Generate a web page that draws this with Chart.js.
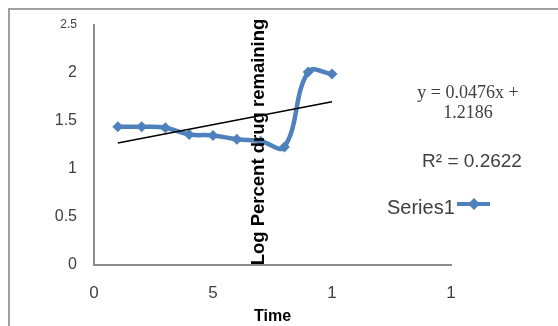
<!DOCTYPE html>
<html>
<head>
<meta charset="utf-8">
<script src="https://cdn.jsdelivr.net/npm/chart.js@4.4.1/dist/chart.umd.min.js"></script>
<style>
  html, body { margin: 0; padding: 0; background: #fff; }
  #wrap { position: relative; width: 558px; height: 326px; }
  #frame { position: absolute; left: 8px; top: 8px; right: 0; bottom: 0;
           border-top: 2px solid #a0a0a0; border-left: 2px solid #a0a0a0; }
  canvas { position: absolute; left: 0; top: 0; }
</style>
</head>
<body>
<div id="wrap">
  <div id="frame"></div>
  <canvas id="chart" width="558" height="326"></canvas>
</div>
<script>
// ══ DATA ══
const timeX   = [1, 2, 3, 4, 5, 6, 7, 8, 9, 10];
const logDrug = [1.44, 1.44, 1.43, 1.36, 1.35, 1.31, 1.29, 1.23, 2.01, 1.99];
const trendX  = [1, 10];
const trendY  = [1.27, 1.70];
const xTickLabels = { 0: '0', 5: '5', 10: '1', 15: '1' };
const yTickLabels = { 0: '0', 0.5: '0.5', 1: '1', 1.5: '1.5', 2: '2', 2.5: '2.5' };
const eqLines   = ['y = 0.0476x +', '1.2186'];
const r2Text    = 'R² = 0.2622';
const seriesName = 'Series1';
const yTitle    = 'Log Percent drug remaining';

const BLUE = '#4f81bd';
const AXIS = '#8c8c8c';
const TXT  = '#404040';
const SANS = '"Liberation Sans", Arial, sans-serif';

const overlay = {
  id: 'overlay',
  afterDraw(chart) {
    const c = chart.ctx;
    c.save();
    // rotated y title sitting inside the plot, as in the original
    c.fillStyle = '#000';
    c.font = 'bold 16px ' + SANS;
    let w = c.measureText(yTitle).width;
    const fs = 16 * 247 / w;
    c.font = 'bold ' + fs.toFixed(1) + 'px ' + SANS;
    c.translate(259, 142);
    c.rotate(-Math.PI / 2);
    c.textAlign = 'center';
    c.textBaseline = 'middle';
    c.fillText(yTitle, 0, 0);
    c.restore();

    c.save();
    c.fillStyle = TXT;
    c.textAlign = 'center';
    c.textBaseline = 'middle';
    c.font = '18px "Liberation Serif", "Times New Roman", serif';
    c.fillText(eqLines[0], 468, 93);
    c.fillText(eqLines[1], 468, 113);
    c.font = '19px ' + SANS;
    c.fillText(r2Text, 472, 162);
    c.textAlign = 'left';
    c.font = '20px ' + SANS;
    c.fillText(seriesName, 387, 208);
    // legend sample
    c.strokeStyle = BLUE;
    c.lineWidth = 4;
    c.beginPath();
    c.moveTo(457, 204);
    c.lineTo(490, 204);
    c.stroke();
    c.fillStyle = BLUE;
    c.beginPath();
    c.moveTo(474, 198); c.lineTo(480, 204); c.lineTo(474, 210); c.lineTo(468, 204);
    c.closePath();
    c.fill();
    c.restore();
  }
};

new Chart(document.getElementById('chart'), {
  type: 'line',
  data: {
    datasets: [
      {
        label: 'trend',
        data: trendX.map((x, i) => ({ x, y: trendY[i] })),
        borderColor: '#000',
        borderWidth: 1.6,
        pointRadius: 0,
        tension: 0,
        order: 0
      },
      {
        label: seriesName,
        data: timeX.map((x, i) => ({ x, y: logDrug[i] })),
        borderColor: BLUE,
        backgroundColor: BLUE,
        borderWidth: 4.5,
        tension: 0.4,
        pointStyle: 'rectRot',
        pointRadius: 5.5,
        pointBorderWidth: 0,
        pointBackgroundColor: BLUE,
        order: 1
      }
    ]
  },
  options: {
    responsive: false,
    animation: false,
    events: [],
    layout: { padding: { top: 25, right: 107, left: 0, bottom: 0 } },
    plugins: { legend: { display: false }, tooltip: { enabled: false } },
    scales: {
      x: {
        type: 'linear',
        min: 0, max: 15,
        afterFit: s => { s.height = 61; },
        grid: { display: false, drawTicks: true, tickLength: 6, tickColor: AXIS },
        border: { color: AXIS, width: 2 },
        ticks: {
          stepSize: 5,
          color: TXT,
          padding: 12,
          font: { size: 17, family: SANS },
          callback: v => xTickLabels[v] ?? ''
        },
        title: {
          display: true,
          text: 'Time',
          color: '#000',
          font: { size: 16, weight: 'bold', family: SANS },
          padding: { top: 0, bottom: 0 }
        }
      },
      y: {
        min: 0, max: 2.5,
        afterFit: s => { s.width = 94; },
        grid: { display: false, drawTicks: true, tickLength: 5, tickColor: AXIS },
        border: { color: AXIS, width: 2 },
        ticks: {
          stepSize: 0.5,
          color: TXT,
          padding: 12,
          font: ctx => ({ size: ctx.tick && ctx.tick.value === 2.5 ? 12 : 16, family: SANS }),
          callback: v => yTickLabels[v] ?? ''
        }
      }
    }
  },
  plugins: [overlay]
});
</script>
</body>
</html>
